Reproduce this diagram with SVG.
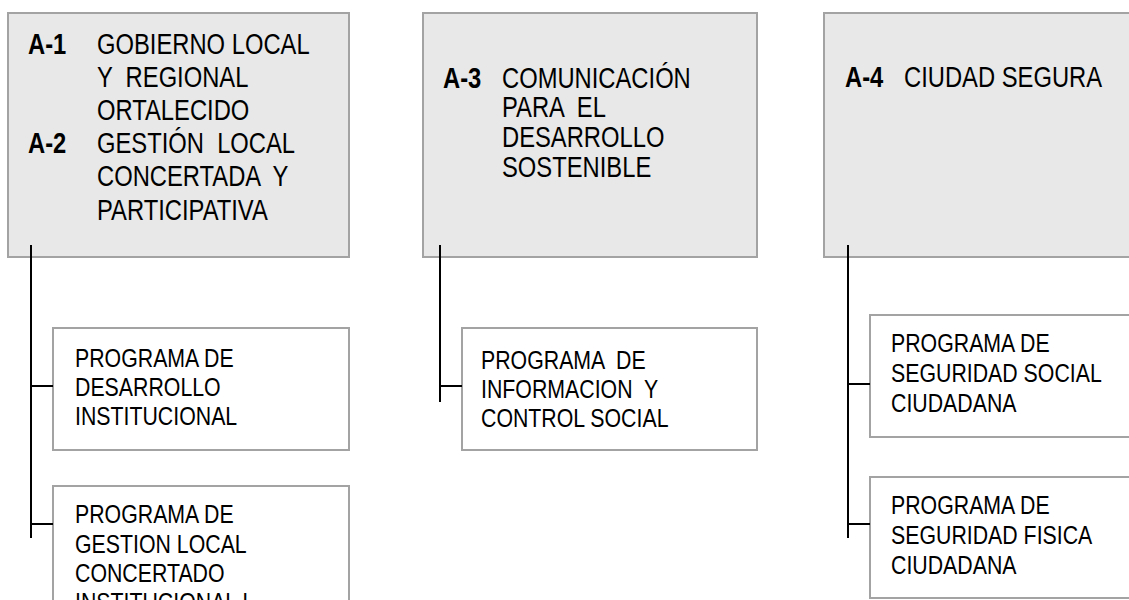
<svg xmlns="http://www.w3.org/2000/svg" width="1129" height="600" viewBox="0 0 1129 600" xml:space="preserve">
<style>
.hdr{fill:#e8e8e8;stroke:#a3a3a3;stroke-width:2}
.prg{fill:#ffffff;stroke:#a3a3a3;stroke-width:2}
.t{font-family:"Liberation Sans Narrow","Arial Narrow","Liberation Sans",sans-serif;fill:#000;white-space:pre}
.h{font-size:29px}
.p{font-size:26px}
.b{font-weight:bold}
.c{stroke:#000;stroke-width:2;fill:none}
</style>
<rect width="1129" height="600" fill="#ffffff"/>
<g id="node-a1a2">
<rect class="hdr" x="8" y="13" width="341" height="244"/>
<text class="t h b" transform="matrix(0.82 0 0 1 28 54)">A-1</text>
<text class="t h" transform="matrix(0.82 0 0 1 97 54)">GOBIERNO LOCAL</text>
<text class="t h" transform="matrix(0.82 0 0 1 97 87)">Y  REGIONAL</text>
<text class="t h" transform="matrix(0.82 0 0 1 97 120)">ORTALECIDO</text>
<text class="t h b" transform="matrix(0.82 0 0 1 28 153)">A-2</text>
<text class="t h" transform="matrix(0.82 0 0 1 97 153)">GESTIÓN  LOCAL</text>
<text class="t h" transform="matrix(0.82 0 0 1 97 186)">CONCERTADA  Y</text>
<text class="t h" transform="matrix(0.82 0 0 1 97 220)">PARTICIPATIVA</text>
</g>
<g id="node-a3">
<rect class="hdr" x="423" y="13" width="334" height="244"/>
<text class="t h b" transform="matrix(0.82 0 0 1 443 88)">A-3</text>
<text class="t h" transform="matrix(0.82 0 0 1 502 88)">COMUNICACIÓN</text>
<text class="t h" transform="matrix(0.82 0 0 1 502 117)">PARA  EL</text>
<text class="t h" transform="matrix(0.82 0 0 1 502 147)">DESARROLLO</text>
<text class="t h" transform="matrix(0.82 0 0 1 502 177)">SOSTENIBLE</text>
</g>
<g id="node-a4">
<rect class="hdr" x="824" y="13" width="320" height="244"/>
<text class="t h b" transform="matrix(0.82 0 0 1 845 87)">A-4</text>
<text class="t h" transform="matrix(0.82 0 0 1 904 87)">CIUDAD SEGURA</text>
</g>
<g id="node-p-desarrollo">
<rect class="prg" x="53" y="328" width="296" height="122"/>
<text class="t p" transform="matrix(0.82 0 0 1 75 367)">PROGRAMA DE</text>
<text class="t p" transform="matrix(0.82 0 0 1 75 396)">DESARROLLO</text>
<text class="t p" transform="matrix(0.82 0 0 1 75 425)">INSTITUCIONAL</text>
</g>
<g id="node-p-gestion">
<rect class="prg" x="53" y="486" width="296" height="130"/>
<text class="t p" transform="matrix(0.82 0 0 1 75 523)">PROGRAMA DE</text>
<text class="t p" transform="matrix(0.82 0 0 1 75 553)">GESTION LOCAL</text>
<text class="t p" transform="matrix(0.82 0 0 1 75 582)">CONCERTADO</text>
<text class="t p" transform="matrix(0.82 0 0 1 75 611)">INSTITUCIONAL I</text>
</g>
<g id="node-p-informacion">
<rect class="prg" x="462" y="328" width="295" height="122"/>
<text class="t p" transform="matrix(0.82 0 0 1 481 369)">PROGRAMA  DE</text>
<text class="t p" transform="matrix(0.82 0 0 1 481 398)">INFORMACION  Y</text>
<text class="t p" transform="matrix(0.82 0 0 1 481 427)">CONTROL SOCIAL</text>
</g>
<g id="node-p-seg-social">
<rect class="prg" x="870" y="315" width="280" height="122"/>
<text class="t p" transform="matrix(0.82 0 0 1 891 352)">PROGRAMA DE</text>
<text class="t p" transform="matrix(0.82 0 0 1 891 382)">SEGURIDAD SOCIAL</text>
<text class="t p" transform="matrix(0.82 0 0 1 891 412)">CIUDADANA</text>
</g>
<g id="node-p-seg-fisica">
<rect class="prg" x="870" y="477" width="280" height="121"/>
<text class="t p" transform="matrix(0.82 0 0 1 891 514)">PROGRAMA DE</text>
<text class="t p" transform="matrix(0.82 0 0 1 891 544)">SEGURIDAD FISICA</text>
<text class="t p" transform="matrix(0.82 0 0 1 891 574)">CIUDADANA</text>
</g>
<g id="connectors">
<path class="c" d="M31 245 V538 M31 386 H53 M31 524 H53"/>
<path class="c" d="M440 245 V402 M440 386 H462"/>
<path class="c" d="M848 245 V538 M848 384 H870 M848 524 H870"/>
</g>
</svg>
